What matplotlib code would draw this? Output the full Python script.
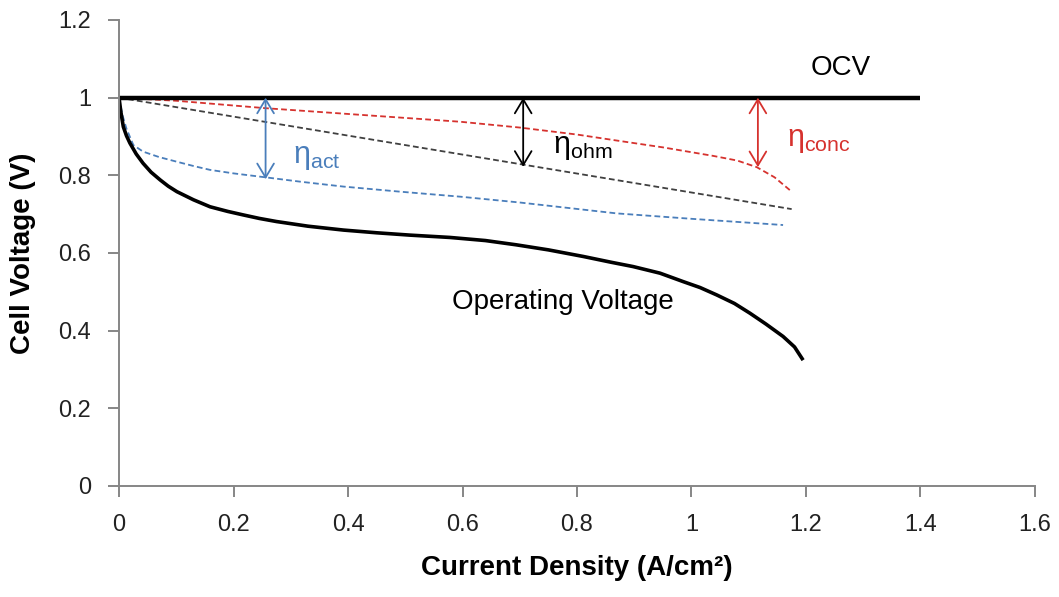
import matplotlib
matplotlib.use('Agg')
import matplotlib.pyplot as plt

# Polarization curve and its loss components
ocv_x = [0, 1.4]
ocv_v = [1.0, 1.0]

op_x = [0, 0.003, 0.0075, 0.013, 0.019, 0.03, 0.042, 0.056, 0.072, 0.086, 0.101, 0.13,
        0.159, 0.19, 0.217, 0.245, 0.275, 0.33, 0.392, 0.45, 0.508, 0.578, 0.64, 0.694,
        0.75, 0.811, 0.86, 0.898, 0.945, 0.986, 1.015, 1.044, 1.075, 1.102, 1.13, 1.16,
        1.18, 1.195]
op_v = [1.0, 0.965, 0.925, 0.902, 0.883, 0.855, 0.831, 0.808, 0.788, 0.772, 0.758, 0.737,
        0.719, 0.707, 0.698, 0.689, 0.681, 0.669, 0.659, 0.652, 0.646, 0.640, 0.632, 0.621,
        0.608, 0.591, 0.576, 0.565, 0.548, 0.526, 0.511, 0.492, 0.470, 0.445, 0.417, 0.385,
        0.358, 0.324]

act_x = [0, 0.006, 0.013, 0.025, 0.042, 0.07, 0.101, 0.13, 0.159, 0.2, 0.255, 0.32,
         0.392, 0.49, 0.596, 0.7, 0.869, 1.0, 1.16]
act_v = [1.0, 0.955, 0.92, 0.878, 0.861, 0.847, 0.835, 0.824, 0.814, 0.805, 0.795, 0.783,
         0.771, 0.758, 0.745, 0.730, 0.702, 0.688, 0.672]

ohm_x = [0, 1.175]
ohm_v = [1.0, 0.713]

conc_x = [0, 0.1, 0.255, 0.4, 0.596, 0.7, 0.8, 0.863, 0.95, 1.038, 1.08, 1.114, 1.145, 1.175]
conc_v = [1.0, 0.992, 0.973, 0.958, 0.938, 0.923, 0.905, 0.891, 0.872, 0.850, 0.838, 0.821,
          0.795, 0.758]

# loss arrows: (x, lower voltage)
act_arrow = (0.256, 0.79)
ohm_arrow = (0.706, 0.822)
conc_arrow = (1.116, 0.821)

xticks = [0, 0.2, 0.4, 0.6, 0.8, 1, 1.2, 1.4, 1.6]
yticks = [0, 0.2, 0.4, 0.6, 0.8, 1, 1.2]

BLUE = '#4A7EBB'
RED = '#D6322E'
AXIS = '#868686'

plt.rcParams['font.family'] = ['Liberation Sans', 'DejaVu Sans']
plt.rcParams['mathtext.fontset'] = 'custom'
plt.rcParams['mathtext.rm'] = 'Liberation Sans'
plt.rcParams['mathtext.it'] = 'Liberation Sans'

fig = plt.figure(figsize=(10.59, 5.97), dpi=100)
ax = fig.add_axes([0.1124, 0.186, 0.8649, 0.7805])

dash = (0, (3.2, 1.8))
ax.plot(ohm_x, ohm_v, color='#404040', lw=1.3, linestyle=dash)
ax.plot(act_x, act_v, color=BLUE, lw=1.3, linestyle=dash)
ax.plot(conc_x, conc_v, color=RED, lw=1.3, linestyle=dash)
ax.plot(op_x, op_v, color='black', lw=2.6, solid_capstyle='butt', solid_joinstyle='round')
ax.plot(ocv_x, ocv_v, color='black', lw=3.2, solid_capstyle='butt')

for (xa, va), c in [(act_arrow, BLUE), (ohm_arrow, 'black'), (conc_arrow, RED)]:
    ax.annotate('', xy=(xa, va), xytext=(xa, 1.0),
                arrowprops=dict(arrowstyle='<->,head_length=0.5,head_width=0.3',
                                color=c, lw=1.3, mutation_scale=20,
                                shrinkA=0, shrinkB=0))

ax.text(1.26, 1.076, 'OCV', fontsize=20, ha='center', va='center')
ax.text(0.776, 0.474, 'Operating Voltage', fontsize=20, ha='center', va='center')
ax.text(0.304, 0.848, r'$\mathrm{\eta_{act}}$', fontsize=22, color=BLUE, ha='left', va='center')
ax.text(0.758, 0.873, r'$\mathrm{\eta_{ohm}}$', fontsize=22, color='black', ha='left', va='center')
ax.text(1.167, 0.891, r'$\mathrm{\eta_{conc}}$', fontsize=22, color=RED, ha='left', va='center')

ax.set_xlim(0, 1.6)
ax.set_ylim(0, 1.2)
ax.set_xticks(xticks)
ax.set_yticks(yticks)
ax.set_xticklabels([f'{t:g}' for t in xticks])
ax.set_yticklabels([f'{t:g}' for t in yticks])

for side in ['top', 'right']:
    ax.spines[side].set_visible(False)
for side in ['left', 'bottom']:
    ax.spines[side].set_color(AXIS)
    ax.spines[side].set_linewidth(1.4)
ax.tick_params(axis='both', direction='out', length=8, width=1.4, color=AXIS,
               labelsize=17, labelcolor='#222222')
ax.tick_params(axis='x', pad=12)
ax.tick_params(axis='y', pad=12)

ax.set_xlabel('Current Density (A/cm²)', fontsize=20, fontweight='bold', labelpad=14)
ax.set_ylabel('Cell Voltage (V)', fontsize=20, fontweight='bold', labelpad=16)

fig.savefig('out.png', dpi=100)
